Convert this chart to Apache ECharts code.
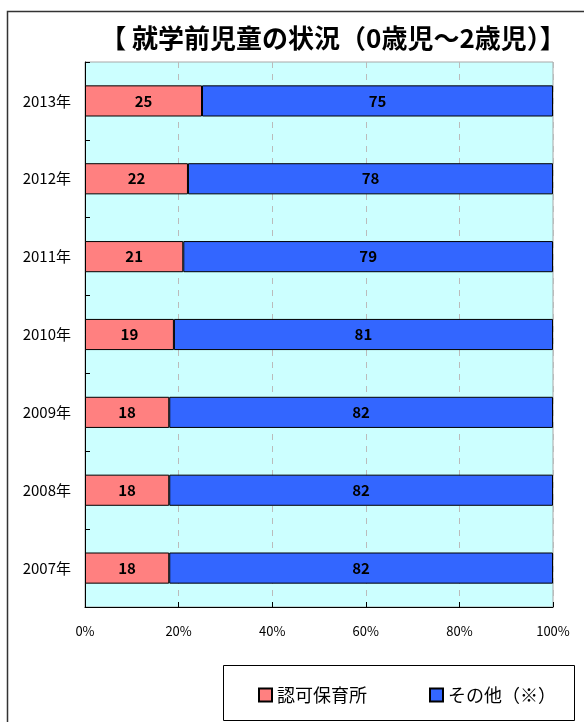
<!DOCTYPE html>
<html>
<head>
<meta charset="utf-8">
<script src="https://cdn.jsdelivr.net/npm/echarts@6/dist/echarts.min.js"></script>
<style>
html,body{margin:0;padding:0;background:#fff;}
#c{width:584px;height:722px;}
</style>
</head>
<body>
<div id="c"></div>
<script>
var years = ['2007年','2008年','2009年','2010年','2011年','2012年','2013年'];
var ninka = [18, 18, 18, 19, 21, 22, 25];
var sonota = [82, 82, 82, 81, 79, 78, 75];
var xTicks = [0, 20, 40, 60, 80, 100];
var seriesNames = ['認可保育所', 'その他（※）'];
var titleText = '【 就学前児童の状況（0歳児～2歳児）】';

var FONT = '"Noto Sans CJK JP", "Noto Sans", sans-serif';
var chart = echarts.init(document.getElementById('c'), null, {renderer: 'canvas'});

var labelStyle = {
  show: true,
  position: 'inside',
  color: '#000',
  fontWeight: 'bold',
  fontSize: 15,
  fontFamily: FONT
};

chart.setOption({
  animation: false,
  backgroundColor: '#fff',
  title: {
    text: titleText,
    left: 328,
    textAlign: 'center',
    top: 20,
    textStyle: {fontFamily: FONT, fontWeight: 'bold', fontSize: 26, color: '#000'}
  },
  graphic: [
    {type: 'rect', shape: {x: 7.5, y: 11.5, width: 620, height: 740}, style: {fill: 'none', stroke: '#333', lineWidth: 1.5}, z: -1},
    {type: 'rect', shape: {x: 223.5, y: 665.5, width: 351, height: 55}, style: {fill: '#fff', stroke: '#000', lineWidth: 1}, z: 0}
  ],
  legend: {
    data: seriesNames,
    left: 253,
    top: 681,
    icon: 'rect',
    itemWidth: 13,
    itemHeight: 13,
    itemGap: 62,
    textStyle: {fontFamily: FONT, fontSize: 18, color: '#000'},
    z: 5
  },
  grid: {
    left: 85, right: 31, top: 62, bottom: 115,
    show: true,
    backgroundColor: '#CCFFFF',
    borderColor: '#A8A8A8',
    borderWidth: 1
  },
  xAxis: {
    type: 'value',
    min: xTicks[0],
    max: xTicks[xTicks.length - 1],
    interval: 20,
    axisLine: {show: true, lineStyle: {color: '#000', width: 1}},
    axisTick: {show: true, inside: true, length: 5, lineStyle: {color: '#000'}},
    axisLabel: {formatter: '{value}%', margin: 18, color: '#000', fontSize: 13, fontFamily: FONT},
    splitLine: {show: true, lineStyle: {color: '#BBBBBB', type: [6, 6], width: 1}}
  },
  yAxis: {
    type: 'category',
    data: years,
    axisLine: {show: true, lineStyle: {color: '#000', width: 1}},
    axisTick: {show: true, inside: true, length: 5, lineStyle: {color: '#000'}},
    axisLabel: {margin: 14, color: '#000', fontSize: 15, fontFamily: FONT},
    splitLine: {show: false}
  },
  series: [
    {
      name: seriesNames[0], type: 'bar', stack: 's', data: ninka, barWidth: '40%',
      itemStyle: {color: '#FF8080', borderColor: '#000', borderWidth: 1},
      label: labelStyle
    },
    {
      name: seriesNames[1], type: 'bar', stack: 's', data: sonota, barWidth: '40%',
      itemStyle: {color: '#3366FF', borderColor: '#000', borderWidth: 1},
      label: labelStyle
    }
  ]
});
</script>
</body>
</html>
